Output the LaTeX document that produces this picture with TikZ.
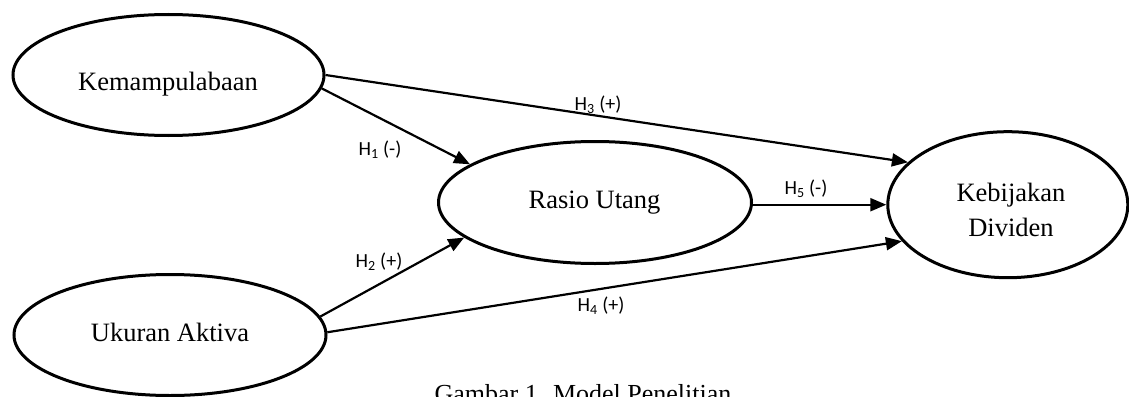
\documentclass[tikz,border=0pt]{standalone}
\usepackage{fontspec}
\setmainfont{Liberation Serif}
\newfontfamily\hypfont{Carlito}
\usetikzlibrary{arrows.meta,shapes.geometric}
\begin{document}
\begin{tikzpicture}[x=1pt,y=-1pt,
  construct/.style={ellipse, draw, line width=3pt, inner sep=0pt},
  varname/.style={font=\fontsize{26.5}{35}\selectfont, inner sep=0pt, align=center},
  link/.style={line width=2.2pt, -{Triangle[length=16pt,width=13pt]}},
  hyp/.style={font=\hypfont\fontsize{20}{22}\selectfont, inner sep=0pt}]
\useasboundingbox (0,0) rectangle (1129,396);

% latent variables
\node[construct, minimum width=311pt, minimum height=121pt] (kem) at (168.5,75) {};
\node[construct, minimum width=312pt, minimum height=121pt] (uk) at (170,335) {};
\node[construct, minimum width=313pt, minimum height=122pt] (ras) at (595,202.5) {};
\node[construct, minimum width=240pt, minimum height=146pt] (keb) at (1007.8,204.7) {};

% variable names
\node[varname, anchor=base] (kemT) at (168,90.7) {Kemampulabaan};
\node[varname, anchor=base] (ukT) at (170,341.7) {Ukuran Aktiva};
\node[varname, anchor=base] (rasT) at (594.5,208) {Rasio Utang};
\node[varname] (kebT) at (1011,210) {Kebijakan\\Dividen};

% hypothesised paths
\draw[link] (kem.-5.6) -- (ras.163.5);
\draw[link] (kem.-0.7) -- (keb.157.9);
\draw[link] (uk.7.1) -- (ras.195.9);
\draw[link] (uk.1.8) -- (keb.199.1);
\draw[link] (ras.east |- keb.west) -- (keb.west);

% path labels
\node[hyp] (h1) at (380,150) {H\textsubscript{1} (-)};
\node[hyp] (h2) at (379,262) {H\textsubscript{2} (+)};
\node[hyp] (h3) at (598,105) {H\textsubscript{3} (+)};
\node[hyp] (h4) at (601,306) {H\textsubscript{4} (+)};
\node[hyp] (h5) at (806,189) {H\textsubscript{5} (-)};

% caption
\node[varname, font=\fontsize{26}{30}\selectfont, anchor=base] (cap) at (583,402) {Gambar 1. Model Penelitian};
\end{tikzpicture}
\end{document}
